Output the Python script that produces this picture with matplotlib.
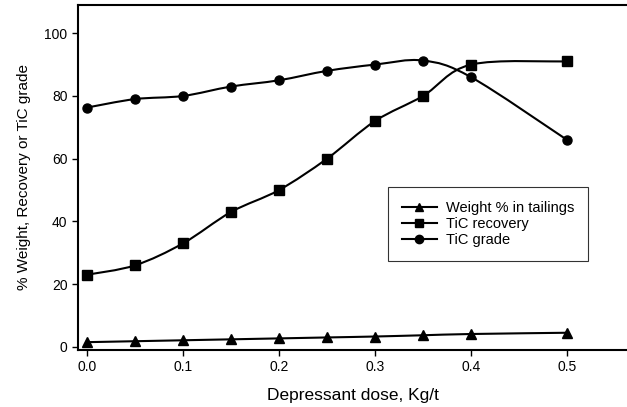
import numpy as np
import matplotlib
matplotlib.use("Agg")
import matplotlib.pyplot as plt
from matplotlib.path import Path
from matplotlib.patches import PathPatch

plt.rcParams['font.family'] = ['Liberation Sans', 'DejaVu Sans']

# data
dose = [0.0, 0.05, 0.1, 0.15, 0.2, 0.25, 0.3, 0.35, 0.4, 0.5]
weight = [1.5, 1.8, 2.1, 2.4, 2.7, 3.0, 3.3, 3.7, 4.1, 4.5]
recovery = [23, 26, 33, 43, 50, 60, 72, 80, 90, 91]
grade = [76.3, 79, 80, 83, 85, 88, 90, 91.3, 86, 66]


def smooth_path(x, y, t=0.5):
    # Catmull-Rom style cubic bezier through the points
    x = np.asarray(x, float)
    y = np.asarray(y, float)
    verts = [(x[0], y[0])]
    codes = [Path.MOVETO]
    n = len(x)
    for i in range(n - 1):
        i0 = max(i - 1, 0)
        i3 = min(i + 2, n - 1)
        c1 = (x[i] + (x[i + 1] - x[i0]) * t / 3, y[i] + (y[i + 1] - y[i0]) * t / 3)
        c2 = (x[i + 1] - (x[i3] - x[i]) * t / 3, y[i + 1] - (y[i3] - y[i]) * t / 3)
        verts += [c1, c2, (x[i + 1], y[i + 1])]
        codes += [Path.CURVE4] * 3
    return Path(verts, codes)


fig = plt.figure(figsize=(6.27, 4.07), dpi=100)
ax = fig.add_axes([78 / 627, 1 - 350 / 407, 1 - 78 / 627, 345 / 407])

series = [(weight, '^', 7, 'Weight % in tailings'),
          (recovery, 's', 6.8, 'TiC recovery'),
          (grade, 'o', 6.5, 'TiC grade')]
for vals, mk, ms, lab in series:
    # smooth curve through the points, then the markers on top
    ax.add_patch(PathPatch(smooth_path(dose, vals), fill=False, lw=1.5, ec='black'))
    ax.plot(dose, vals, marker=mk, ls='None', color='black', ms=ms)

handles = [plt.Line2D([], [], color='black', lw=1.5, marker=mk, ms=6) for _, mk, _, _ in series]
leg = ax.legend(handles, [s[3] for s in series], loc='upper left',
                bbox_to_anchor=((388 - 78) / 549, (350 - 187) / 345),
                borderaxespad=0, fontsize=10.5, frameon=True, fancybox=False,
                edgecolor='black', handlelength=2.4, borderpad=0.95,
                labelspacing=0.14, handletextpad=0.6)
leg.get_frame().set_linewidth(0.8)

ax.set_xlim(-0.0094, 0.5625)
ax.set_ylim(-1, 109)
ax.set_xticks([0.0, 0.1, 0.2, 0.3, 0.4, 0.5])
ax.set_xticklabels(['0.0', '0.1', '0.2', '0.3', '0.4', '0.5'])
ax.set_yticks([0, 20, 40, 60, 80, 100])
ax.tick_params(labelsize=10, direction='out', length=4, width=1)
ax.spines['right'].set_visible(False)
for s in ['left', 'bottom', 'top']:
    ax.spines[s].set_linewidth(1.5)

ax.set_xlabel('Depressant dose, Kg/t', fontsize=12.5, labelpad=10)
ax.set_ylabel('% Weight, Recovery or TiC grade', fontsize=11, labelpad=10)

fig.savefig('out.png', dpi=100)
